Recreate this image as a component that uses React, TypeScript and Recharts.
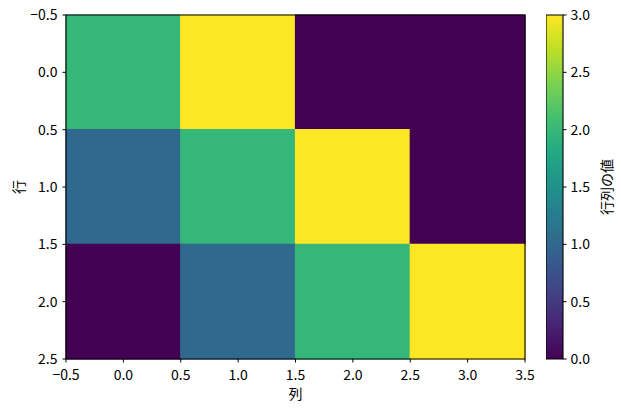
import React from 'react';
import { ComposedChart, XAxis, YAxis, ReferenceArea, Label } from 'recharts';

const rowIndex = [0, 1, 2];
const colIndex = [0, 1, 2, 3];
const row0 = [2, 3, 0, 0];
const row1 = [1, 2, 3, 0];
const row2 = [0, 1, 2, 3];
const matrix = [row0, row1, row2];

const xTicks = [-0.5, 0, 0.5, 1, 1.5, 2, 2.5, 3, 3.5];
const yTicks = [-0.5, 0, 0.5, 1, 1.5, 2, 2.5];
const cbTicks = [0, 0.5, 1, 1.5, 2, 2.5, 3];
const xLabel = '列';
const yLabel = '行';
const cbLabel = '行列の値';

const viridisStops: [number, string][] = [
  [0.0, '#440154'], [0.1, '#482475'], [0.2, '#414487'], [0.3, '#355f8d'],
  [0.4, '#2a788e'], [0.5, '#21918c'], [0.6, '#22a884'], [0.7, '#44bf70'],
  [0.8, '#7ad151'], [0.9, '#bddf26'], [1.0, '#fde725'],
];
const valueColors: Record<number, string> = { 0: '#440154', 1: '#31688e', 2: '#35b779', 3: '#fde725' };

const FONT = '"Noto Sans CJK JP", "Noto Sans", sans-serif';
const fmt = (v: number) => v.toFixed(1).replace('-', '\u2212');
const tickStyle = { fill: '#000', fontSize: 14, fontFamily: FONT };

const cells = rowIndex.flatMap((r) => colIndex.map((c) => ({ r, c, v: matrix[r][c] })));
const cbData = cbTicks.map((t, i) => ({ t, x: i % 2 }));

export default function App() {
  return (
    <div style={{ position: 'fixed', left: 0, top: 0, width: 621, height: 411, background: '#fff' }}>
      <ComposedChart width={621} height={411} margin={{ top: 15, right: 96, left: 16, bottom: 7 }} data={cells}>
        <XAxis
          type="number"
          dataKey="c"
          domain={[-0.5, 3.5]}
          ticks={xTicks}
          tickFormatter={fmt}
          height={45}
          axisLine={false}
          tickLine={{ stroke: '#000' }}
          tickSize={3.5}
          tickMargin={8}
          tick={tickStyle}
          allowDataOverflow
        >
          <Label
            content={(p: any) => {
              const vb = p.viewBox;
              return (
                <text x={vb.x + vb.width / 2} y={vb.y + 34} textAnchor="middle" dominantBaseline="central" fontSize={14} fontFamily={FONT} fill="#000">
                  {xLabel}
                </text>
              );
            }}
          />
        </XAxis>
        <YAxis
          type="number"
          dataKey="r"
          domain={[-0.5, 2.5]}
          reversed
          ticks={yTicks}
          tickFormatter={fmt}
          width={50}
          axisLine={false}
          tickLine={{ stroke: '#000' }}
          tickSize={3.5}
          tickMargin={5}
          tick={tickStyle}
          allowDataOverflow
        >
          <Label
            content={(p: any) => {
              const vb = p.viewBox;
              const x = vb.x + 2;
              const y = vb.y + vb.height / 2;
              return (
                <text x={x} y={y} transform={`rotate(-90, ${x}, ${y})`} textAnchor="middle" dominantBaseline="central" fontSize={14} fontFamily={FONT} fill="#000">
                  {yLabel}
                </text>
              );
            }}
          />
        </YAxis>
        {cells.map((cell) => (
          <ReferenceArea
            key={`${cell.r}-${cell.c}`}
            x1={cell.c - 0.5}
            x2={cell.c + 0.5}
            y1={cell.r - 0.5}
            y2={cell.r + 0.5}
            fill={valueColors[cell.v]}
            fillOpacity={1}
            stroke={valueColors[cell.v]}
            strokeWidth={1.2}
            ifOverflow="visible"
          />
        ))}
        <ReferenceArea x1={-0.5} x2={3.5} y1={-0.5} y2={2.5} fill="none" fillOpacity={0} stroke="#000" strokeWidth={1.1} ifOverflow="visible" />
      </ComposedChart>
      <div style={{ position: 'absolute', left: 546, top: 0 }}>
        <ComposedChart width={75} height={411} margin={{ top: 15, right: 0, left: 0, bottom: 52 }} data={cbData}>
          <defs>
            <linearGradient id="viridis" x1="0" y1="1" x2="0" y2="0">
              {viridisStops.map(([o, c]) => (
                <stop key={o} offset={`${o * 100}%`} stopColor={c} />
              ))}
            </linearGradient>
          </defs>
          <XAxis type="number" dataKey="x" hide domain={[0, 1]} allowDataOverflow />
          <YAxis
            type="number"
            dataKey="t"
            orientation="right"
            domain={[0, 3]}
            ticks={cbTicks}
            tickFormatter={fmt}
            width={58}
            axisLine={false}
            tickLine={{ stroke: '#000' }}
            tickSize={3.5}
            tickMargin={4}
            tick={tickStyle}
            allowDataOverflow
          >
            <Label
              content={(p: any) => {
                const vb = p.viewBox;
                const x = vb.x + 43;
                const y = vb.y + vb.height / 2;
                return (
                  <text x={x} y={y} transform={`rotate(-90, ${x}, ${y})`} textAnchor="middle" dominantBaseline="central" fontSize={14} fontFamily={FONT} fill="#000">
                    {cbLabel}
                  </text>
                );
              }}
            />
          </YAxis>
          <ReferenceArea x1={0} x2={1} y1={0} y2={3} fill="url(#viridis)" fillOpacity={1} stroke="#000" strokeWidth={1.1} ifOverflow="visible" />
        </ComposedChart>
      </div>
    </div>
  );
}
